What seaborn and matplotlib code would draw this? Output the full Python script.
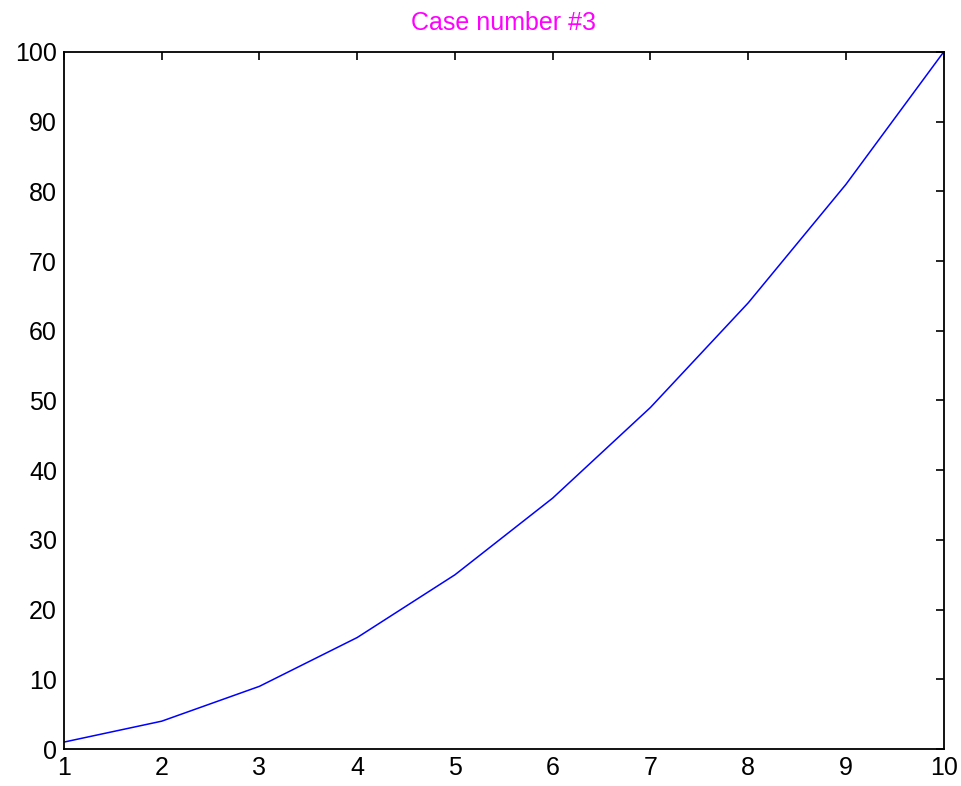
import matplotlib
matplotlib.use('Agg')
import matplotlib.pyplot as plt
import seaborn as sns
import numpy as np

# values
x_vals = [1, 2, 3, 4, 5, 6, 7, 8, 9, 10]
y_vals = [1, 4, 9, 16, 25, 36, 49, 64, 81, 100]
x_ticks = list(range(1, 11))
y_ticks = list(range(0, 101, 10))

sns.set_style("white")
plt.rcParams['font.family'] = ['Liberation Sans', 'DejaVu Sans']

fig = plt.figure(figsize=(9.62, 7.86), dpi=100)
ax = fig.add_axes([0.0665, 0.047, 0.9145, 0.887])

sns.lineplot(x=x_vals, y=y_vals, color="#0000ff", linewidth=1.1, ax=ax)

ax.set_xlim(1, 10)
ax.set_ylim(0, 100)
ax.set_xticks(x_ticks)
ax.set_yticks(y_ticks)
ax.tick_params(direction="in", length=6, width=1.2, top=True, right=True,
               labelsize=18, colors="black", pad=5)
for s in ax.spines.values():
    s.set_visible(True)
    s.set_color("black")
    s.set_linewidth(1.3)

ax.set_title("Case number #3", color="#ff00ff", fontsize=18, pad=16)

fig.savefig("out.png", dpi=100)
